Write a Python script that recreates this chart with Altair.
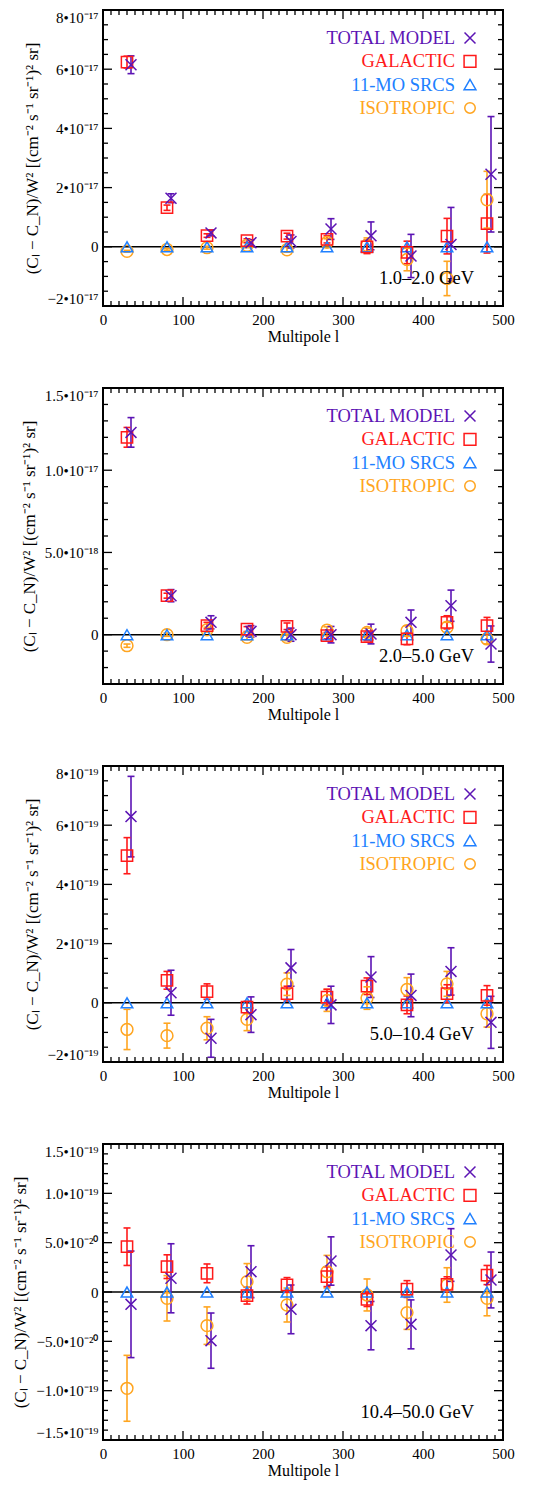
import altair as alt
import pandas as pd

FONT = "Liberation Serif"

# ---------------- data ----------------
SERIES = ["TOTAL MODEL", "GALACTIC", "11-MO SRCS", "ISOTROPIC"]
COLORS = ["#5c14b4", "#ff1a1a", "#2080ff", "#ffa520"]
X_PATH = "M-1,-1L1,1M-1,1L1,-1"
SHAPES = [X_PATH, "square", "triangle-up", "circle"]
SIZES = [120, 140, 140, 110]

MULTIPOLE = [30, 80, 130, 180, 230, 280, 330, 380, 430, 480]
TOTAL_SHIFT = 5  # total-model points are drawn slightly right of the bin

# Panel 1: 1.0-2.0 GeV, values in units of 1e-17
P1_UNIT = 1e-17
P1_TOT = [6.15, 1.64, 0.47, 0.14, 0.18, 0.60, 0.37, -0.31, 0.08, 2.45]
P1_TOT_ERR = [0.30, 0.15, 0.10, 0.10, 0.22, 0.35, 0.47, 0.73, 1.25, 1.95]
P1_GAL = [6.24, 1.32, 0.38, 0.21, 0.36, 0.25, 0.00, -0.19, 0.36, 0.78]
P1_GAL_ERR = [0.20, 0.09, 0.06, 0.06, 0.10, 0.12, 0.23, 0.38, 0.60, 0.99]
P1_SRC = [0.0, 0.0, 0.0, 0.0, 0.0, 0.0, 0.0, 0.0, 0.0, 0.0]
P1_SRC_ERR = [0.0, 0.0, 0.0, 0.0, 0.0, 0.0, 0.0, 0.0, 0.0, 0.0]
P1_ISO = [-0.15, -0.09, -0.03, 0.05, -0.10, 0.15, 0.05, -0.43, -1.07, 1.59]
P1_ISO_ERR = [0.03, 0.03, 0.05, 0.08, 0.08, 0.12, 0.25, 0.38, 0.58, 0.96]

# Panel 2: 2.0-5.0 GeV, units of 1e-18
P2_UNIT = 1e-18
P2_TOT = [12.3, 2.37, 0.75, 0.20, 0.0, 0.0, 0.04, 0.75, 1.76, -0.57]
P2_TOT_ERR = [0.9, 0.37, 0.40, 0.35, 0.40, 0.50, 0.60, 0.75, 0.95, 1.10]
P2_GAL = [12.0, 2.37, 0.55, 0.34, 0.51, -0.06, -0.12, -0.26, 0.75, 0.55]
P2_GAL_ERR = [0.6, 0.15, 0.20, 0.15, 0.20, 0.20, 0.25, 0.35, 0.40, 0.50]
P2_SRC = [0.0, 0.0, 0.0, 0.0, 0.0, 0.0, 0.0, 0.0, 0.0, 0.0]
P2_SRC_ERR = [0.0, 0.0, 0.0, 0.0, 0.0, 0.0, 0.0, 0.0, 0.0, 0.0]
P2_ISO = [-0.67, 0.0, 0.30, -0.16, -0.16, 0.28, 0.14, 0.24, 0.45, -0.26]
P2_ISO_ERR = [0.10, 0.10, 0.15, 0.15, 0.20, 0.20, 0.25, 0.30, 0.30, 0.30]

# Panel 3: 5.0-10.4 GeV, units of 1e-19
P3_UNIT = 1e-19
P3_TOT = [6.29, 0.34, -1.20, -0.40, 1.18, -0.07, 0.87, 0.25, 1.06, -0.66]
P3_TOT_ERR = [1.36, 0.76, 0.64, 0.60, 0.62, 0.63, 0.69, 0.72, 0.80, 0.88]
P3_GAL = [4.97, 0.76, 0.38, -0.15, 0.31, 0.19, 0.56, -0.07, 0.31, 0.25]
P3_GAL_ERR = [0.61, 0.30, 0.26, 0.20, 0.25, 0.27, 0.28, 0.30, 0.30, 0.33]
P3_SRC = [0.0, 0.0, 0.0, 0.0, 0.0, 0.0, 0.0, 0.0, 0.0, 0.0]
P3_SRC_ERR = [0.0, 0.0, 0.0, 0.0, 0.0, 0.0, 0.0, 0.0, 0.0, 0.0]
P3_ISO = [-0.90, -1.11, -0.86, -0.56, 0.63, 0.08, 0.16, 0.45, 0.64, -0.37]
P3_ISO_ERR = [0.68, 0.42, 0.39, 0.38, 0.38, 0.37, 0.38, 0.40, 0.42, 0.45]

# Panel 4: 10.4-50.0 GeV, units of 1e-20
P4_UNIT = 1e-20
P4_TOT = [-1.25, 1.39, -4.93, 2.06, -1.76, 3.14, -3.41, -3.28, 3.75, 1.22]
P4_TOT_ERR = [5.40, 3.50, 2.80, 2.63, 2.47, 2.45, 2.45, 2.48, 2.67, 2.83]
P4_GAL = [4.59, 2.57, 1.89, -0.37, 0.71, 1.55, -0.74, 0.30, 0.78, 1.72]
P4_GAL_ERR = [1.90, 1.20, 0.95, 0.85, 0.75, 1.00, 0.73, 0.85, 0.76, 0.97]
P4_SRC = [0.0, 0.0, 0.0, 0.0, 0.0, 0.0, 0.0, 0.0, 0.0, 0.0]
P4_SRC_ERR = [0.0, 0.0, 0.0, 0.0, 0.0, 0.0, 0.0, 0.0, 0.0, 0.0]
P4_ISO = [-9.76, -0.64, -3.41, 1.05, -1.32, 2.06, -0.30, -2.09, 0.71, -0.64]
P4_ISO_ERR = [3.34, 2.30, 1.90, 1.83, 1.72, 1.65, 1.62, 1.70, 1.75, 1.77]

# axis ticks (in panel units) and their labels
P1_YDOM = [-2, 8]
P1_YTICKS = [-2, 0, 2, 4, 6, 8]
P1_YLABELS = ["−2•10⁻¹⁷", "0", "2•10⁻¹⁷", "4•10⁻¹⁷", "6•10⁻¹⁷", "8•10⁻¹⁷"]
P1_YMINOR = 0.5
P2_YDOM = [-3, 15]
P2_YTICKS = [0, 5, 10, 15]
P2_YLABELS = ["0", "5.0•10⁻¹⁸", "1.0•10⁻¹⁷", "1.5•10⁻¹⁷"]
P2_YMINOR = 1.0
P3_YDOM = [-2, 8]
P3_YTICKS = [-2, 0, 2, 4, 6, 8]
P3_YLABELS = ["−2•10⁻¹⁹", "0", "2•10⁻¹⁹", "4•10⁻¹⁹", "6•10⁻¹⁹", "8•10⁻¹⁹"]
P3_YMINOR = 0.5
P4_YDOM = [-15, 15]
P4_YTICKS = [-15, -10, -5, 0, 5, 10, 15]
P4_YLABELS = ["−1.5•10⁻¹⁹", "−1.0•10⁻¹⁹", "−5.0•10⁻²⁰", "0",
              "5.0•10⁻²⁰", "1.0•10⁻¹⁹", "1.5•10⁻¹⁹"]
P4_YMINOR = 1.0

ENERGY = ["1.0–2.0 GeV", "2.0–5.0 GeV", "5.0–10.4 GeV", "10.4–50.0 GeV"]

X_DOM = [0, 500]
X_TICKS = [0, 100, 200, 300, 400, 500]
X_MINOR = 10

Y_TITLE = "(Cₗ − C_N)/W²  [(cm⁻² s⁻¹ sr⁻¹)² sr]"
X_TITLE = "Multipole l"

W, H = 400, 296
MAJOR_LEN, MINOR_LEN = 9, 5


def frange(a, b, step):
    out, n = [], 0
    while a + n * step <= b + 1e-9:
        out.append(round(a + n * step, 6))
        n += 1
    return out


def panel(series_vals, ydom, yticks, ylabels, yminor, energy):
    rows, caps = [], []
    order = ["ISOTROPIC", "11-MO SRCS", "GALACTIC", "TOTAL MODEL"]
    for name in order:
        vals, errs = series_vals[name]
        for l, v, e in zip(MULTIPOLE, vals, errs):
            lx = l + (TOTAL_SHIFT if name == "TOTAL MODEL" else 0)
            rows.append({"l": lx, "y": v, "lo": v - e, "hi": v + e, "series": name})
            if e > 0:
                caps.append({"l": lx, "y": v - e, "series": name})
                caps.append({"l": lx, "y": v + e, "series": name})
    df = pd.DataFrame(rows)
    cap_df = pd.DataFrame(caps)

    expr = " : ".join(f"datum.value == {v} ? '{t}'" for v, t in zip(yticks, ylabels)) + " : ''"
    yscale = alt.Scale(domain=ydom, nice=False, zero=False)
    xscale = alt.Scale(domain=X_DOM, nice=False, zero=False)
    # end labels sit inside the frame (top label below the top edge, bottom label above)
    baseline = {
        "condition": [
            {"test": f"datum.value == {ydom[1]}", "value": "top"},
            {"test": f"datum.value == {ydom[0]}", "value": "bottom"},
        ],
        "value": "middle",
    }
    yaxis = alt.Axis(values=yticks, labelExpr=expr, ticks=False, domain=False, grid=False,
                     labelFlush=False, labelBaseline=baseline, labelFontSize=15,
                     labelPadding=5, title=Y_TITLE, titleFontSize=17,
                     titleFontWeight="normal", titlePadding=6)
    xaxis = alt.Axis(values=X_TICKS, format="d", ticks=False, domain=False, grid=False,
                     labelFontSize=15, labelPadding=6, labelFlush=False,
                     title=X_TITLE, titleFontSize=16, titleFontWeight="normal",
                     titlePadding=1)

    def Y(f):
        return alt.Y(f, type="quantitative", scale=yscale, axis=yaxis)

    def X(f):
        return alt.X(f, type="quantitative", scale=xscale, axis=xaxis)

    color = alt.Color("series:N", scale=alt.Scale(domain=SERIES, range=COLORS), legend=None)
    shape = alt.Shape("series:N", scale=alt.Scale(domain=SERIES, range=SHAPES), legend=None)
    size = alt.Size("series:N", scale=alt.Scale(domain=SERIES, range=SIZES), legend=None)

    # ticks on all four sides, pointing inward (major and minor)
    ymaj = set(yticks)
    y_major = pd.DataFrame({"v": [v for v in frange(ydom[0], ydom[1], yminor) if v in ymaj]})
    y_minor = pd.DataFrame({"v": [v for v in frange(ydom[0], ydom[1], yminor) if v not in ymaj]})
    x_major = pd.DataFrame({"v": [v for v in frange(X_DOM[0], X_DOM[1], X_MINOR) if v in X_TICKS]})
    x_minor = pd.DataFrame({"v": [v for v in frange(X_DOM[0], X_DOM[1], X_MINOR) if v not in X_TICKS]})

    layers = []
    for tdf, ln in ((y_major, MAJOR_LEN), (y_minor, MINOR_LEN)):
        for a, b in ((0, ln), (W - ln, W)):
            layers.append(alt.Chart(tdf).mark_rule(color="black", strokeWidth=1.3).encode(
                y=Y("v"), x=alt.value(a), x2=alt.value(b)))
    for tdf, ln in ((x_major, MAJOR_LEN), (x_minor, MINOR_LEN)):
        for a, b in ((0, ln), (H - ln, H)):
            layers.append(alt.Chart(tdf).mark_rule(color="black", strokeWidth=1.3).encode(
                x=X("v"), y=alt.value(a), y2=alt.value(b)))

    zero = pd.DataFrame({"v": [0]})
    layers.append(alt.Chart(zero).mark_rule(color="black", strokeWidth=1.5).encode(y=Y("v")))

    layers.append(alt.Chart(df).mark_rule(strokeWidth=1.6).encode(
        x=X("l"), y=Y("lo"), y2="hi", color=color))
    layers.append(alt.Chart(cap_df).mark_tick(orient="horizontal", size=7, thickness=1.6,
                                              opacity=1).encode(
        x=X("l"), y=Y("y"), color=color))
    layers.append(alt.Chart(df).mark_point(filled=False, strokeWidth=1.5, opacity=1).encode(
        x=X("l"), y=Y("y"), color=color, shape=shape, size=size))

    # legend drawn as text + symbol
    for i, (name, col, shp, sz) in enumerate(zip(SERIES, COLORS, SHAPES, SIZES)):
        ypix = 28 + 23.3 * i
        lab = pd.DataFrame({"t": [name]})
        layers.append(alt.Chart(lab).mark_text(align="right", baseline="middle", font=FONT,
                                               fontSize=18.5, color=col).encode(
            text="t:N", x=alt.value(352), y=alt.value(ypix)))
        layers.append(alt.Chart(lab).mark_point(shape=shp, size=sz, filled=False, color=col,
                                                strokeWidth=1.5, opacity=1).encode(
            x=alt.value(367), y=alt.value(ypix)))

    en = pd.DataFrame({"t": [energy]})
    layers.append(alt.Chart(en).mark_text(align="right", baseline="middle", font=FONT,
                                          fontSize=18.5, color="black").encode(
        text="t:N", x=alt.value(371), y=alt.value(268)))

    return alt.layer(*layers).properties(width=W, height=H)


p1 = panel({"TOTAL MODEL": (P1_TOT, P1_TOT_ERR), "GALACTIC": (P1_GAL, P1_GAL_ERR),
            "11-MO SRCS": (P1_SRC, P1_SRC_ERR), "ISOTROPIC": (P1_ISO, P1_ISO_ERR)},
           P1_YDOM, P1_YTICKS, P1_YLABELS, P1_YMINOR, ENERGY[0])
p2 = panel({"TOTAL MODEL": (P2_TOT, P2_TOT_ERR), "GALACTIC": (P2_GAL, P2_GAL_ERR),
            "11-MO SRCS": (P2_SRC, P2_SRC_ERR), "ISOTROPIC": (P2_ISO, P2_ISO_ERR)},
           P2_YDOM, P2_YTICKS, P2_YLABELS, P2_YMINOR, ENERGY[1])
p3 = panel({"TOTAL MODEL": (P3_TOT, P3_TOT_ERR), "GALACTIC": (P3_GAL, P3_GAL_ERR),
            "11-MO SRCS": (P3_SRC, P3_SRC_ERR), "ISOTROPIC": (P3_ISO, P3_ISO_ERR)},
           P3_YDOM, P3_YTICKS, P3_YLABELS, P3_YMINOR, ENERGY[2])
p4 = panel({"TOTAL MODEL": (P4_TOT, P4_TOT_ERR), "GALACTIC": (P4_GAL, P4_GAL_ERR),
            "11-MO SRCS": (P4_SRC, P4_SRC_ERR), "ISOTROPIC": (P4_ISO, P4_ISO_ERR)},
           P4_YDOM, P4_YTICKS, P4_YLABELS, P4_YMINOR, ENERGY[3])

chart = alt.vconcat(p1, p2, p3, p4, spacing=41).properties(
    padding={"left": 2, "top": 0, "right": 4, "bottom": 1}
).configure_view(stroke="black", strokeWidth=2).configure_axis(
    labelFont=FONT, titleFont=FONT, labelColor="black", titleColor="black"
)

chart.save("out.html", embed_options={"renderer": "svg", "actions": False})
